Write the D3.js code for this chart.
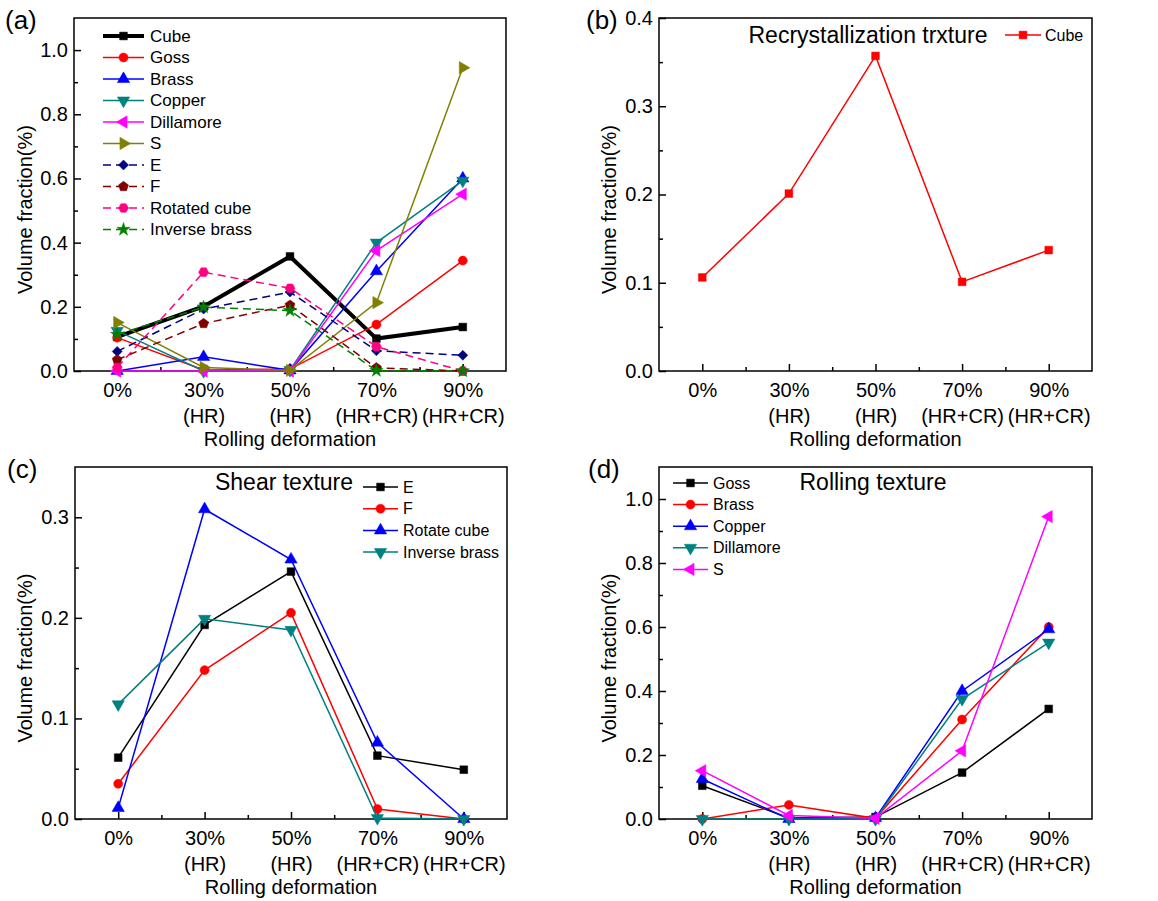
<!DOCTYPE html>
<html>
<head>
<meta charset="utf-8">
<script src="https://cdn.jsdelivr.net/npm/d3@7"></script>
<style>
body { margin: 0; background: #fff; }
svg { font-family: Arial, 'Liberation Sans', sans-serif; }
</style>
</head>
<body>
<div id="chart"></div>
<script>
// x categories (two-line tick labels)
const categories = ['0%', '30%', '50%', '70%', '90%'];
const subLabels = ['', '(HR)', '(HR)', '(HR+CR)', '(HR+CR)'];

// volume fractions
const cube = [0.106, 0.201, 0.357, 0.101, 0.137];
const goss = [0.104, 0.003, 0.006, 0.145, 0.344];
const brass = [0.0, 0.044, 0.002, 0.311, 0.600];
const copper = [0.125, 0.0, 0.003, 0.400, 0.593];
const dillamore = [0.0, 0.0, 0.0, 0.375, 0.551];
const sTexture = [0.151, 0.011, 0.002, 0.213, 0.945];
const eTexture = [0.061, 0.193, 0.246, 0.063, 0.049];
const fTexture = [0.035, 0.148, 0.205, 0.010, 0.0];
const rotatedCube = [0.011, 0.308, 0.258, 0.076, 0.0];
const inverseBrass = [0.114, 0.199, 0.188, 0.001, 0.0];

const svg = d3.select('#chart')
    .append('svg')
    .attr('width', 1158)
    .attr('height', 901);

function polygonPath(n, r, offset) {
    const pts = d3.range(n).map(k => {
        const a = -Math.PI / 2 + offset + 2 * Math.PI * k / n;
        return [r * Math.cos(a), r * Math.sin(a)];
    });
    return 'M' + pts.map(p => p.join(',')).join('L') + 'Z';
}

function markerPath(kind) {
    if (kind === 'square') return d3.symbol(d3.symbolSquare, 60)();
    if (kind === 'circle') return d3.symbol(d3.symbolCircle, 64)();
    if (kind === 'diamond') return d3.symbol(d3.symbolSquare, 50)();
    if (kind === 'star') return d3.symbol(d3.symbolStar, 55)();
    if (kind === 'pentagon') return polygonPath(5, 5.2, 0);
    if (kind === 'hexagon') return polygonPath(6, 5, Math.PI / 6);
    return d3.symbol(d3.symbolTriangle, 66)();
}

function markerRotate(kind) {
    return { down: 180, left: -90, right: 90, diamond: 45 }[kind] || 0;
}

function drawPanel(p) {
    const g = svg.append('g');
    const x = d3.scaleLinear().domain([-0.5, 4.5]).range([p.left, p.right]);
    const y = d3.scaleLinear().domain([0, p.yMax]).range([p.bottom, p.top]);

    // x minor ticks (between categories)
    g.append('g')
        .attr('transform', `translate(0,${p.bottom})`)
        .call(d3.axisBottom(x).tickValues([0.5, 1.5, 2.5, 3.5]).tickSize(-4).tickFormat(''))
        .call(a => a.select('.domain').remove());

    // x major ticks + labels
    const xa = g.append('g')
        .attr('transform', `translate(0,${p.bottom})`)
        .call(d3.axisBottom(x).tickValues(d3.range(categories.length))
            .tickSize(-7).tickPadding(11.5).tickFormat(i => categories[i]))
        .call(a => a.select('.domain').remove());
    xa.selectAll('.tick text').each(function(i) {
        d3.select(this).append('tspan')
            .attr('x', 0)
            .attr('dy', '1.3em')
            .text(subLabels[i]);
    });

    // y minor ticks
    g.append('g')
        .attr('transform', `translate(${p.left},0)`)
        .call(d3.axisLeft(y).tickValues(p.yMinor).tickSize(-4).tickFormat(''))
        .call(a => a.select('.domain').remove());

    // y major ticks + labels
    g.append('g')
        .attr('transform', `translate(${p.left},0)`)
        .call(d3.axisLeft(y).tickValues(p.yMajor).tickSize(-7).tickPadding(6).tickFormat(d3.format('.1f')))
        .call(a => a.select('.domain').remove());

    g.selectAll('.tick line').attr('stroke', '#000').attr('stroke-width', 1.5);
    g.selectAll('.tick text').attr('fill', '#000');
    g.selectAll('g').attr('font-family', null).attr('font-size', 20);

    // frame
    g.append('rect')
        .attr('x', p.left)
        .attr('y', p.top)
        .attr('width', p.right - p.left)
        .attr('height', p.bottom - p.top)
        .attr('fill', 'none')
        .attr('stroke', '#000')
        .attr('stroke-width', 1.5);

    // axis titles
    g.append('text')
        .attr('transform', `translate(${p.yTitleX},${(p.top + p.bottom) / 2 + 15}) rotate(-90)`)
        .attr('text-anchor', 'middle')
        .attr('font-size', 20)
        .text('Volume fraction(%)');

    g.append('text')
        .attr('x', (p.left + p.right) / 2)
        .attr('y', p.bottom + 75)
        .attr('text-anchor', 'middle')
        .attr('font-size', 20)
        .text('Rolling deformation');

    // panel letter
    g.append('text')
        .attr('x', p.letterX)
        .attr('y', p.letterY)
        .attr('font-size', 26)
        .text(p.letter);

    if (p.title) {
        g.append('text')
            .attr('x', p.title.x)
            .attr('y', p.title.y)
            .attr('text-anchor', 'middle')
            .attr('font-size', 23)
            .text(p.title.text);
    }

    const line = d3.line()
        .x((d, i) => x(i))
        .y(d => y(d));

    p.series.forEach(s => {
        g.append('path')
            .datum(s.values)
            .attr('d', line)
            .attr('fill', 'none')
            .attr('stroke', s.color)
            .attr('stroke-width', s.width || 1.5)
            .attr('stroke-dasharray', s.dash || null)
            .attr('stroke-linejoin', 'miter');

        g.selectAll(null)
            .data(s.values)
            .enter()
            .append('path')
            .attr('d', markerPath(s.symbol))
            .attr('transform', (d, i) => `translate(${x(i)},${y(d)}) rotate(${markerRotate(s.symbol)})`)
            .attr('fill', s.color)
            .attr('stroke', s.color)
            .attr('stroke-width', 0.5);
    });

    // legend
    const lg = p.legend;
    p.series.forEach((s, i) => {
        const ry = lg.y + i * lg.dy;
        g.append('line')
            .attr('x1', lg.x0).attr('x2', lg.x1)
            .attr('y1', ry).attr('y2', ry)
            .attr('stroke', s.color)
            .attr('stroke-width', s.width || 1.5)
            .attr('stroke-dasharray', s.dash || null);
        g.append('path')
            .attr('d', markerPath(s.symbol))
            .attr('transform', `translate(${(lg.x0 + lg.x1) / 2},${ry}) rotate(${markerRotate(s.symbol)})`)
            .attr('fill', s.color)
            .attr('stroke', s.color)
            .attr('stroke-width', 0.5);
        g.append('text')
            .attr('x', lg.tx)
            .attr('y', ry)
            .attr('dy', '0.35em')
            .attr('font-size', lg.size)
            .text(s.name);
    });
}

// (a) all textures
drawPanel({
    letter: '(a)', letterX: 5, letterY: 29,
    left: 74, right: 506, top: 18, bottom: 371, yTitleX: 32,
    yMax: 1.1, yMajor: [0, 0.2, 0.4, 0.6, 0.8, 1.0], yMinor: [0.1, 0.3, 0.5, 0.7, 0.9],
    legend: { x0: 103, x1: 144, tx: 150, y: 36, dy: 21.5, size: 17 },
    series: [
        { name: 'Cube', values: cube, color: '#000000', symbol: 'square', width: 4 },
        { name: 'Goss', values: goss, color: '#ff0000', symbol: 'circle' },
        { name: 'Brass', values: brass, color: '#0000ff', symbol: 'up' },
        { name: 'Copper', values: copper, color: '#008080', symbol: 'down' },
        { name: 'Dillamore', values: dillamore, color: '#ff00ff', symbol: 'left' },
        { name: 'S', values: sTexture, color: '#808000', symbol: 'right' },
        { name: 'E', values: eTexture, color: '#000080', symbol: 'diamond', dash: '8,5' },
        { name: 'F', values: fTexture, color: '#800000', symbol: 'pentagon', dash: '8,5' },
        { name: 'Rotated cube', values: rotatedCube, color: '#ff0080', symbol: 'hexagon', dash: '8,5' },
        { name: 'Inverse brass', values: inverseBrass, color: '#008000', symbol: 'star', dash: '8,5' }
    ]
});

// (b) recrystallization texture
drawPanel({
    letter: '(b)', letterX: 586, letterY: 29,
    left: 659, right: 1092, top: 18, bottom: 371, yTitleX: 616,
    yMax: 0.4, yMajor: [0, 0.1, 0.2, 0.3, 0.4], yMinor: [0.05, 0.15, 0.25, 0.35],
    title: { text: 'Recrystallization trxture', x: 868, y: 43 },
    legend: { x0: 1005, x1: 1041, tx: 1045, y: 35, dy: 21, size: 16 },
    series: [
        { name: 'Cube', values: cube, color: '#ff0000', symbol: 'square' }
    ]
});

// (c) shear texture
drawPanel({
    letter: '(c)', letterX: 7, letterY: 478,
    left: 75, right: 507, top: 467, bottom: 819, yTitleX: 32,
    yMax: 0.35, yMajor: [0, 0.1, 0.2, 0.3], yMinor: [0.05, 0.15, 0.25],
    title: { text: 'Shear texture', x: 284, y: 490 },
    legend: { x0: 363, x1: 398, tx: 403, y: 487, dy: 21.7, size: 16 },
    series: [
        { name: 'E', values: eTexture, color: '#000000', symbol: 'square' },
        { name: 'F', values: fTexture, color: '#ff0000', symbol: 'circle' },
        { name: 'Rotate cube', values: rotatedCube, color: '#0000ff', symbol: 'up' },
        { name: 'Inverse brass', values: inverseBrass, color: '#008080', symbol: 'down' }
    ]
});

// (d) rolling texture
drawPanel({
    letter: '(d)', letterX: 588, letterY: 478,
    left: 659, right: 1092, top: 467, bottom: 819, yTitleX: 616,
    yMax: 1.1, yMajor: [0, 0.2, 0.4, 0.6, 0.8, 1.0], yMinor: [0.1, 0.3, 0.5, 0.7, 0.9],
    title: { text: 'Rolling texture', x: 873, y: 490 },
    legend: { x0: 673, x1: 708, tx: 713, y: 483, dy: 21.6, size: 16 },
    series: [
        { name: 'Goss', values: goss, color: '#000000', symbol: 'square' },
        { name: 'Brass', values: brass, color: '#ff0000', symbol: 'circle' },
        { name: 'Copper', values: copper, color: '#0000ff', symbol: 'up' },
        { name: 'Dillamore', values: dillamore, color: '#008080', symbol: 'down' },
        { name: 'S', values: sTexture, color: '#ff00ff', symbol: 'left' }
    ]
});
</script>
</body>
</html>
